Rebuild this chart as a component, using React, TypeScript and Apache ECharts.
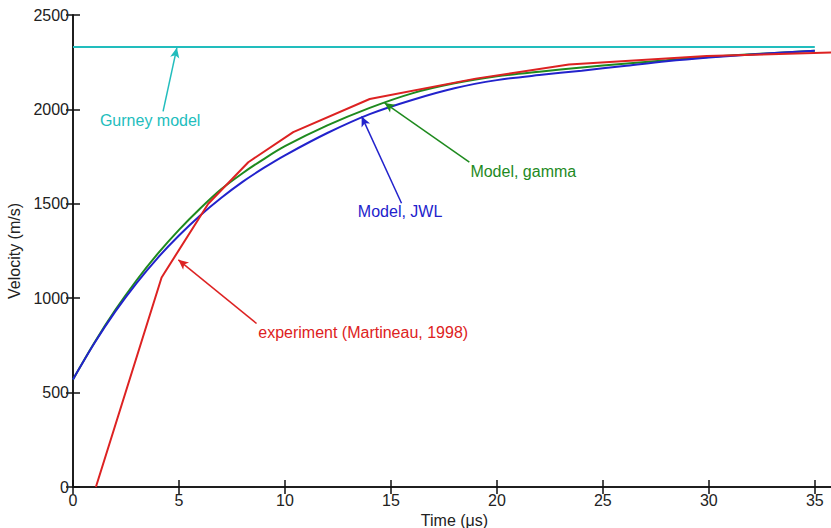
import React, { useEffect, useRef } from "react";
import * as echarts from "echarts";

const expTime = [1.08, 4.18, 6.38, 8.27, 10.39, 14.0, 19.0, 23.4, 29.9, 36];
const expVel = [0, 1110, 1500, 1720, 1880, 2055, 2163, 2238, 2283, 2302];

const modelTime = [0, 1, 2, 3, 4, 5, 6, 7, 8, 9, 10, 12, 14, 16, 18, 20, 22, 24, 26, 28, 30, 32, 35];
const jwlVel = [570, 760, 930, 1080, 1214, 1332, 1438, 1532, 1616, 1690, 1757, 1875, 1975, 2050, 2112, 2155, 2182, 2205, 2230, 2255, 2275, 2291, 2310];
const gammaVel = [570, 763, 938, 1095, 1236, 1362, 1475, 1578, 1662, 1737, 1805, 1915, 2008, 2085, 2138, 2175, 2200, 2222, 2242, 2260, 2278, 2292, 2310];

const gurneyTime = [0, 35];
const gurneyVel = [2330, 2330];

const xTicks = [0, 5, 10, 15, 20, 25, 30, 35];

// annotation arrows: [tailX, tailY, headX, headY] in data units
const gurneyArrow = [4.25, 1990, 4.9, 2326];
const gammaArrow = [18.7, 1721, 14.7, 2034];
const jwlArrow = [15.5, 1503, 13.62, 1963];
const expArrow = [8.66, 866, 4.97, 1203];

// annotation labels: [x, y] in data units (left edge, vertical centre)
const labels = [
  { text: "Gurney model", x: 1.27, y: 1943, color: "#22BDBD" },
  { text: "Model, gamma", x: 18.75, y: 1673, color: "#1E8A1E" },
  { text: "Model, JWL", x: 13.44, y: 1460, color: "#2222CC" },
  { text: "experiment (Martineau, 1998)", x: 8.74, y: 816, color: "#DD2222" },
];

const FONT = "'Liberation Sans', Arial, Helvetica, sans-serif";

function arrow(a: number[], color: string) {
  return {
    silent: true,
    symbol: ["none", "arrow"],
    symbolSize: [7, 10],
    label: { show: false },
    lineStyle: { color, width: 1.5, type: "solid" },
    data: [[{ coord: [a[0], a[1]] }, { coord: [a[2], a[3]] }]],
  };
}

export default function App() {
  const ref = useRef<HTMLDivElement>(null);
  useEffect(() => {
    if (!ref.current) return;
    const chart = echarts.init(ref.current, undefined, { renderer: "svg" });
    const axisLine = { show: true, lineStyle: { color: "#111", width: 1.5 } };
    const tick = { show: true, inside: true, length: 7, lineStyle: { color: "#111", width: 1.5 } };
    chart.setOption({
      animation: false,
      backgroundColor: "#fff",
      grid: {
        left: 73,
        top: 15,
        width: 763,
        height: 472,
        containLabel: false,
        outerBoundsMode: "none",
      },
      xAxis: [
        {
          type: "value",
          min: 0,
          max: 36,
          interval: 5,
          position: "bottom",
          axisLine,
          axisTick: tick,
          splitLine: { show: false },
          axisLabel: {
            color: "#222",
            fontSize: 16,
            fontFamily: FONT,
            margin: 5,
            formatter: (v: number) => (xTicks.includes(v) ? String(v) : ""),
          },
          name: "Time (μs)",
          nameLocation: "middle",
          nameGap: 22,
          nameTextStyle: { color: "#222", fontSize: 16, fontFamily: FONT },
        },
        {
          type: "value",
          min: 0,
          max: 36,
          interval: 5,
          position: "top",
          axisLine,
          axisTick: tick,
          axisLabel: { show: false },
          splitLine: { show: false },
        },
      ],
      yAxis: [
        {
          type: "value",
          min: 0,
          max: 2500,
          interval: 500,
          position: "left",
          axisLine,
          axisTick: tick,
          splitLine: { show: false },
          axisLabel: {
            color: "#222",
            fontSize: 16,
            fontFamily: FONT,
            margin: 4,
            formatter: (v: number) => String(v),
          },
          name: "Velocity (m/s)",
          nameLocation: "middle",
          nameGap: 45,
          nameTextStyle: { color: "#222", fontSize: 16, fontFamily: FONT },
        },
        {
          type: "value",
          min: 0,
          max: 2500,
          interval: 500,
          position: "right",
          axisLine,
          axisTick: tick,
          axisLabel: { show: false },
          splitLine: { show: false },
        },
      ],
      series: [
        {
          name: "Gurney model",
          type: "line",
          showSymbol: false,
          data: gurneyTime.map((t, i) => [t, gurneyVel[i]]),
          lineStyle: { color: "#22BDBD", width: 2 },
          itemStyle: { color: "#22BDBD" },
          markLine: arrow(gurneyArrow, "#22BDBD"),
        },
        {
          name: "Model, gamma",
          type: "line",
          smooth: 0.3,
          showSymbol: false,
          data: modelTime.map((t, i) => [t, gammaVel[i]]),
          lineStyle: { color: "#1E8A1E", width: 2 },
          itemStyle: { color: "#1E8A1E" },
          markLine: arrow(gammaArrow, "#1E8A1E"),
        },
        {
          name: "Model, JWL",
          type: "line",
          smooth: 0.3,
          showSymbol: false,
          data: modelTime.map((t, i) => [t, jwlVel[i]]),
          lineStyle: { color: "#2222CC", width: 2 },
          itemStyle: { color: "#2222CC" },
          markLine: arrow(jwlArrow, "#2222CC"),
        },
        {
          name: "experiment (Martineau, 1998)",
          type: "line",
          showSymbol: false,
          data: expTime.map((t, i) => [t, expVel[i]]),
          lineStyle: { color: "#DD2222", width: 2 },
          itemStyle: { color: "#DD2222" },
          markLine: arrow(expArrow, "#DD2222"),
        },
      ],
    });
    const graphic = labels.map((l) => {
      const p = chart.convertToPixel({ gridIndex: 0 }, [l.x, l.y]) as number[];
      return {
        type: "text",
        x: p[0],
        y: p[1],
        style: {
          text: l.text,
          fill: l.color,
          fontSize: 16,
          fontFamily: FONT,
          textAlign: "left",
          textVerticalAlign: "middle",
        },
      };
    });
    chart.setOption({ graphic });
    return () => chart.dispose();
  }, []);
  return (
    <div
      ref={ref}
      style={{ position: "fixed", left: 0, top: 0, width: 831, height: 528 }}
    />
  );
}
